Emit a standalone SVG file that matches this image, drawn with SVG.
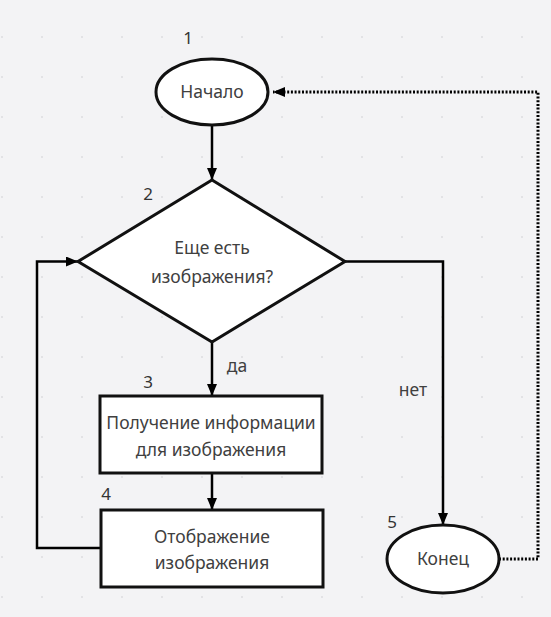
<svg xmlns="http://www.w3.org/2000/svg" width="551" height="617" viewBox="0 0 551 617">
<defs>
<pattern id="grid" x="0" y="0" width="40" height="40" patternUnits="userSpaceOnUse">
<rect x="1.3" y="36.3" width="1.4" height="1.4" fill="#cfcfd3"/>
</pattern>
<marker id="arr" viewBox="0 0 12 10" refX="12" refY="5" markerWidth="12" markerHeight="10" markerUnits="userSpaceOnUse" orient="auto">
<path d="M0,0 L12,5 L0,10 Z" fill="#000"/>
</marker>
</defs>
<style>
.shape{fill:#fff;stroke:#111;stroke-width:3}
.line{fill:none;stroke:#000;stroke-width:2.5}
.dot{fill:none;stroke:#000;stroke-width:3;stroke-dasharray:2 1.7}
text{font-family:"Noto Sans","Open Sans",sans-serif;font-size:17.5px;fill:#404040;text-anchor:middle}
.num{fill:#333;font-size:17px}
</style>
<rect width="551" height="617" fill="#f3f3f5"/>
<rect width="551" height="617" fill="url(#grid)"/>
<g id="connectors">
<line class="line" x1="212" y1="126" x2="212" y2="180" marker-end="url(#arr)"/>
<line class="line" x1="212" y1="342" x2="212" y2="396" marker-end="url(#arr)"/>
<line class="line" x1="212" y1="473" x2="212" y2="510" marker-end="url(#arr)"/>
<polyline class="line" points="101,548 37,548 37,261.5 78,261.5" marker-end="url(#arr)"/>
<polyline class="line" points="345,261.5 443,261.5 443,525" marker-end="url(#arr)"/>
<polyline class="dot" points="499,559 538,559 538,92 273,92" marker-end="url(#arr)"/>
<text x="237" y="372">да</text>
<text x="413" y="396">нет</text>
</g>
<g id="n1">
<ellipse class="shape" cx="212" cy="92" rx="56" ry="33"/>
<text x="212" y="98">Начало</text>
<text class="num" x="188" y="44">1</text>
</g>
<g id="n2">
<polygon class="shape" points="212,180 345,261.5 212,342 78,261.5"/>
<text x="212" y="254">Еще есть</text>
<text x="212" y="283">изображения?</text>
<text class="num" x="148" y="200">2</text>
</g>
<g id="n3">
<rect class="shape" x="100" y="396" width="222" height="77"/>
<text x="211" y="429">Получение информации</text>
<text x="211" y="456">для изображения</text>
<text class="num" x="148" y="388">3</text>
</g>
<g id="n4">
<rect class="shape" x="101" y="510" width="222" height="77"/>
<text x="212" y="543">Отображение</text>
<text x="212" y="569">изображения</text>
<text class="num" x="106" y="500">4</text>
</g>
<g id="n5">
<ellipse class="shape" cx="443" cy="559" rx="56" ry="34"/>
<text x="443" y="565">Конец</text>
<text class="num" x="392" y="528">5</text>
</g>
</svg>
